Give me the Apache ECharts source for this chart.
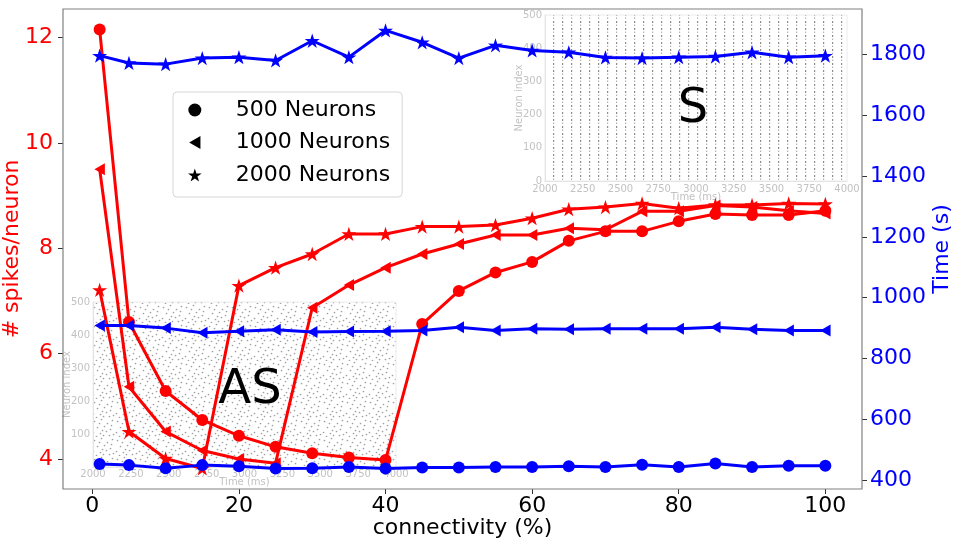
<!DOCTYPE html>
<html>
<head>
<meta charset="utf-8">
<script src="https://cdn.jsdelivr.net/npm/echarts@6/dist/echarts.min.js"></script>
<style>
html, body { margin: 0; padding: 0; background: #fff; }
#chart { width: 957px; height: 545px; }
</style>
</head>
<body>
<div id="chart"></div>
<script>
// connectivity (%) on the x axis
const connectivity = [1, 5, 10, 15, 20, 25, 30, 35, 40, 45, 50, 55, 60, 65, 70, 75, 80, 85, 90, 95, 100];

// # spikes / neuron (left axis, red)
const spikes500 = [12.15, 6.6, 5.29, 4.74, 4.44, 4.23, 4.11, 4.03, 3.98, 6.56, 7.19, 7.54, 7.74, 8.14, 8.32, 8.32, 8.51, 8.65, 8.63, 8.63, 8.71];
const spikes1000 = [9.5, 5.37, 4.52, 4.16, 4.0, 3.92, 6.87, 7.3, 7.63, 7.89, 8.08, 8.25, 8.25, 8.38, 8.35, 8.7, 8.7, 8.81, 8.78, 8.71, 8.66];
const spikes2000 = [7.21, 4.52, 4.01, 3.82, 7.29, 7.63, 7.89, 8.27, 8.27, 8.41, 8.41, 8.44, 8.57, 8.74, 8.78, 8.85, 8.76, 8.82, 8.82, 8.85, 8.84];

// simulation time in s (right axis, blue)
const time500 = [453, 449, 439, 449, 445, 438, 439, 443, 438, 441, 441, 443, 443, 445, 443, 450, 443, 454, 443, 447, 447];
const time1000 = [909, 909, 900, 885, 890, 895, 887, 889, 890, 892, 903, 892, 898, 896, 898, 898, 898, 903, 896, 892, 892];
const time2000 = [1797, 1773, 1769, 1789, 1792, 1781, 1846, 1792, 1880, 1841, 1789, 1831, 1814, 1808, 1791, 1789, 1792, 1794, 1808, 1792, 1797];

const legendNames = ['500 Neurons', '1000 Neurons', '2000 Neurons'];

// inset raster plots (axes only)
const insetTime = [2000, 4000];
const insetNeuron = [0, 500];

const FONT = 'DejaVu Sans';
const RED = '#ff0000';
const BLUE = '#0000ff';
const triPath = 'path://M0,50L86.6,0L86.6,100Z';
const starPath = 'path://M50,0L61.17,34.63L97.55,34.55L68.07,55.87L79.39,90.45L50,69L20.61,90.45L31.93,55.87L2.45,34.55L38.83,34.63Z';
const symbols = ['circle', triPath, starPath];
const symbolSizes = [12, 12, 15];

// textures for the raster insets
function dotTile() {
    const c = document.createElement('canvas');
    c.width = 23; c.height = 19;
    const g = c.getContext('2d');
    g.fillStyle = '#a0a0a0';
    [[2, 3], [9, 1], [15, 5], [20, 2], [5, 9], [12, 8], [18, 11], [1, 14], [8, 15],
     [14, 13], [21, 16], [4, 18], [11, 17], [17, 17], [7, 5], [19, 7], [10, 12]].forEach(function (p) {
        g.beginPath();
        g.arc(p[0] + 0.5, p[1] + 0.5, 0.85, 0, Math.PI * 2);
        g.fill();
    });
    return c;
}
function stripeTile() {
    const c = document.createElement('canvas');
    c.width = 9; c.height = 7;
    const g = c.getContext('2d');
    g.fillStyle = '#8c8c8c';
    g.fillRect(4, 0, 1.2, 2);
    g.fillStyle = '#b4b4b4';
    g.fillRect(4, 3.5, 1.2, 1.5);
    return c;
}

function pairs(ys) {
    return connectivity.map(function (x, i) { return [x, ys[i]]; });
}

function lineSeries(k, ys, color, yIdx) {
    return {
        name: legendNames[k],
        type: 'line',
        xAxisIndex: 0,
        yAxisIndex: yIdx,
        data: pairs(ys),
        symbol: symbols[k],
        symbolSize: symbolSizes[k],
        symbolKeepAspect: true,
        color: color,
        lineStyle: { width: 3, color: color },
        itemStyle: { color: color },
        z: yIdx === 0 ? 3 : 4
    };
}

(function () {
    let myChart = echarts.init(document.getElementById('chart'));
    const insetLabel = { color: '#c2c2c2', fontSize: 10, fontFamily: FONT, formatter: function (v) { return String(v); } };
    const insetName = { color: '#c2c2c2', fontSize: 10, fontFamily: FONT };
    const insetLine = { show: true, onZero: false, lineStyle: { color: '#e4e4e4' } };
    const mainTick = { show: true, length: 5, lineStyle: { color: '#333' } };
    let option = {
        animation: false,
        textStyle: { fontFamily: FONT },
        grid: [{
            left: 63, right: 95, top: 9, bottom: 56,
            outerBoundsMode: 'none',
            containLabel: false,
            show: true,
            borderColor: '#808080',
            borderWidth: 1.2,
            backgroundColor: 'transparent',
            z: 1
        }, {
            // AS inset
            left: 93, top: 302, width: 303, height: 165,
            outerBoundsMode: 'none',
            containLabel: false,
            show: true,
            borderColor: '#ececec',
            borderWidth: 1,
            backgroundColor: { image: dotTile(), repeat: 'repeat' },
            z: 0
        }, {
            // S inset
            left: 545, top: 15, width: 302, height: 166,
            outerBoundsMode: 'none',
            containLabel: false,
            show: true,
            borderColor: '#ececec',
            borderWidth: 1,
            backgroundColor: { image: stripeTile(), repeat: 'repeat' },
            z: 0
        }],
        legend: {
            data: legendNames.map(function (n, k) {
                return { name: n, icon: symbols[k], itemStyle: { color: '#000' } };
            }),
            orient: 'vertical',
            left: 173,
            top: 92,
            itemWidth: 30,
            itemHeight: 13,
            itemGap: 6.5,
            padding: [5, 12, 9, 15],
            selectedMode: false,
            backgroundColor: 'rgba(255,255,255,0.85)',
            borderColor: '#d6d6d6',
            borderWidth: 1,
            borderRadius: 4,
            textStyle: { fontSize: 22, color: '#000', fontFamily: FONT, lineHeight: 26, padding: [0, 0, 0, 21] },
            z: 10
        },
        xAxis: [{
            type: 'value',
            gridIndex: 0,
            min: -4, max: 105,
            minInterval: 20, maxInterval: 20,
            name: 'connectivity (%)',
            nameLocation: 'middle',
            nameGap: 28,
            nameMoveOverlap: false,
            nameTextStyle: { fontSize: 22, color: '#000', fontFamily: FONT },
            axisLine: { show: false, onZero: false },
            axisTick: mainTick,
            axisLabel: {
                fontSize: 22, color: '#000', margin: 6,
                showMinLabel: false, showMaxLabel: false,
                formatter: function (v) { return v % 20 === 0 ? String(v) : ''; }
            },
            splitLine: { show: false }
        }, {
            type: 'value',
            gridIndex: 1,
            min: insetTime[0], max: insetTime[1], interval: 250,
            name: 'Time (ms)', nameLocation: 'middle', nameGap: 10,
            nameMoveOverlap: false,
            nameTextStyle: insetName,
            axisLine: insetLine, axisTick: { show: false },
            axisLabel: Object.assign({ margin: 2 }, insetLabel),
            splitLine: { show: false }
        }, {
            type: 'value',
            gridIndex: 2,
            min: insetTime[0], max: insetTime[1], interval: 250,
            name: 'Time (ms)', nameLocation: 'middle', nameGap: 11,
            nameMoveOverlap: false,
            nameTextStyle: insetName,
            axisLine: insetLine, axisTick: { show: false },
            axisLabel: Object.assign({ margin: 3 }, insetLabel),
            splitLine: { show: false }
        }],
        yAxis: [{
            type: 'value',
            gridIndex: 0,
            position: 'left',
            min: 3.43, max: 12.54,
            minInterval: 2, maxInterval: 2,
            name: '# spikes/neuron',
            nameLocation: 'middle',
            nameRotate: 90,
            nameGap: 40,
            nameMoveOverlap: false,
            nameTextStyle: { fontSize: 22, color: RED, fontFamily: FONT },
            axisLine: { show: false, onZero: false },
            axisTick: mainTick,
            axisLabel: {
                fontSize: 22, color: RED, margin: 10,
                showMinLabel: false, showMaxLabel: false,
                formatter: function (v) { return v % 2 === 0 ? String(v) : ''; }
            },
            splitLine: { show: false }
        }, {
            type: 'value',
            gridIndex: 0,
            position: 'right',
            min: 370.4, max: 1950.5,
            minInterval: 200, maxInterval: 200,
            name: 'Time (s)',
            nameLocation: 'middle',
            nameRotate: 90,
            nameGap: 69,
            nameMoveOverlap: false,
            nameTextStyle: { fontSize: 22, color: BLUE, fontFamily: FONT },
            axisLine: { show: false, onZero: false },
            axisTick: mainTick,
            axisLabel: {
                fontSize: 22, color: BLUE, margin: 8,
                showMinLabel: false, showMaxLabel: false,
                formatter: function (v) { return v % 200 === 0 ? String(v) : ''; }
            },
            splitLine: { show: false }
        }, {
            type: 'value',
            gridIndex: 1,
            min: insetNeuron[0], max: insetNeuron[1], interval: 100,
            name: 'Neuron index', nameLocation: 'middle', nameGap: 21,
            nameMoveOverlap: false,
            nameTextStyle: insetName,
            axisLine: insetLine, axisTick: { show: false },
            axisLabel: Object.assign({ margin: 3, showMinLabel: false }, insetLabel),
            splitLine: { show: false }
        }, {
            type: 'value',
            gridIndex: 2,
            min: insetNeuron[0], max: insetNeuron[1], interval: 100,
            name: 'Neuron index', nameLocation: 'middle', nameGap: 21,
            nameMoveOverlap: false,
            nameTextStyle: insetName,
            axisLine: insetLine, axisTick: { show: false },
            axisLabel: Object.assign({ margin: 3 }, insetLabel),
            splitLine: { show: false }
        }],
        graphic: [{
            type: 'text', x: 250, y: 391, z: 1,
            style: { text: 'AS', font: '48px "DejaVu Sans"', fill: '#000', align: 'center', verticalAlign: 'middle' }
        }, {
            type: 'text', x: 693, y: 110, z: 1,
            style: { text: 'S', font: '48px "DejaVu Sans"', fill: '#000', align: 'center', verticalAlign: 'middle' }
        }],
        series: [
            lineSeries(0, spikes500, RED, 0),
            lineSeries(1, spikes1000, RED, 0),
            lineSeries(2, spikes2000, RED, 0),
            lineSeries(0, time500, BLUE, 1),
            lineSeries(1, time1000, BLUE, 1),
            lineSeries(2, time2000, BLUE, 1)
        ]
    };
    myChart.setOption(option);
    window.addEventListener('resize', function () {
        myChart.resize();
    });
})();
</script>
</body>
</html>
